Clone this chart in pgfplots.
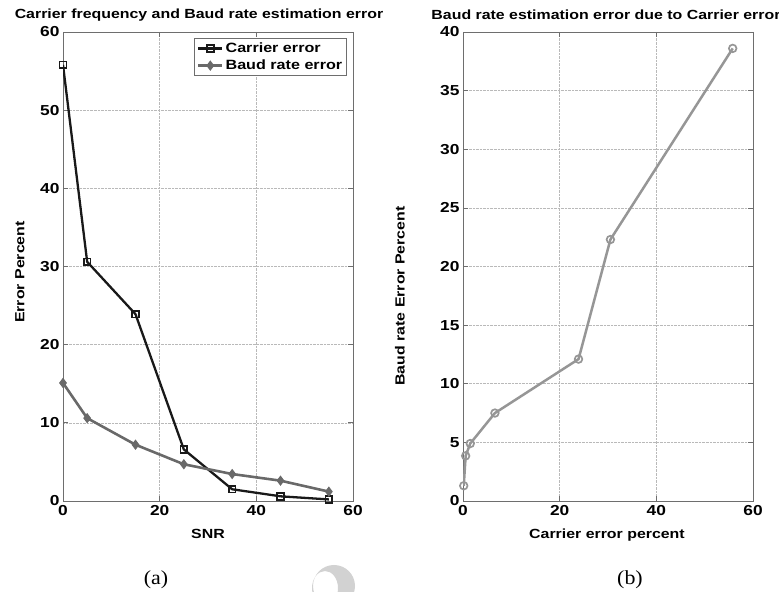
\documentclass[border=0pt]{standalone}
\usepackage{fontspec}
\newfontfamily\af[FakeStretch=1.2]{Liberation Sans}
\newfontfamily\tf[FakeStretch=1.1]{Liberation Serif}
\usepackage{pgfplots}
\pgfplotsset{compat=1.18}
\definecolor{carr}{RGB}{25,25,25}
\definecolor{baud}{RGB}{105,105,105}
\definecolor{rgt}{RGB}{150,150,150}
\definecolor{axc}{RGB}{110,110,110}

\pgfplotsset{ml/.style={
  scale only axis, width=290bp, height=469bp, anchor=south west,
  xmin=0, xmax=60, xtick={0,20,40,60},
  axis line style={axc, line width=0.9pt},
  tick style={axc, line width=0.7pt}, tick align=inside, major tick length=5bp,
  grid=major, grid style={densely dotted, gray!55, line width=0.6pt},
  /pgf/number format/assume math mode=true,
  tick label style={font=\af\bfseries\fontsize{14.5}{16}\selectfont},
  xticklabel style={yshift=-1bp},
}}

\begin{document}
\begin{tikzpicture}[x=1bp,y=1bp]
\useasboundingbox (0,0) rectangle (779,592);

% faint mark left in the scan
\fill[gray!35, even odd rule] (334,6) ellipse (21bp and 21bp) (325,4) ellipse (13bp and 17bp);

\begin{axis}[ml, at={(63bp,91bp)},
  ymin=0, ymax=60, ytick={0,10,...,60},
  legend style={draw=axc, fill=white, line width=0.6pt,
    at={(1,1)}, anchor=north east, xshift=-6bp, yshift=-6bp,
    font=\af\bfseries\fontsize{13.5}{15}\selectfont,
    row sep=2bp, inner sep=2.5bp},
  legend cell align=left,
  legend image code/.code={
    \draw[mark repeat=2, mark phase=2, #1] plot coordinates {(0bp,0bp) (12bp,0bp) (24bp,0bp)};}]
\addplot[carr, line width=2.3pt, mark=square, mark size=3.4bp,
  mark options={line width=1.6pt, fill=none}] coordinates {
  (0,55.8) (5,30.6) (15,23.9) (25,6.6) (35,1.5) (45,0.6) (55,0.2)};
\addlegendentry{Carrier error}
\addplot[baud, line width=2.6pt, mark=diamond*, mark size=4.4bp,
  mark options={line width=1pt, fill=baud}] coordinates {
  (0,15.1) (5,10.6) (15,7.2) (25,4.7) (35,3.45) (45,2.6) (55,1.2)};
\addlegendentry{Baud rate error}
\end{axis}

\begin{axis}[ml, at={(463bp,91bp)},
  ymin=0, ymax=40, ytick={0,5,...,40}]
\addplot[rgt, line width=2.5pt, mark=o, mark size=3.8bp,
  mark options={line width=1.7pt}] coordinates {
  (0.15,1.3) (0.55,3.85) (1.5,4.9) (6.6,7.5) (23.9,12.1) (30.5,22.3) (55.8,38.6)};
\end{axis}

\begin{scope}[every node/.style={font=\af\bfseries\fontsize{13.3}{15}\selectfont}]
\node at (199,577) {Carrier frequency and Baud rate estimation error};
\node at (606,577) {Baud rate estimation error due to Carrier error};
\node at (208,58) {SNR};
\node at (607,57) {Carrier error percent};
\node[rotate=90] at (20,320) {Error Percent};
\node[rotate=90] at (400,296) {Baud rate Error Percent};
\end{scope}
\node[font=\tf\fontsize{20}{22}\selectfont] at (156,12) {(a)};
\node[font=\tf\fontsize{20}{22}\selectfont] at (630,12) {(b)};
\end{tikzpicture}
\end{document}
